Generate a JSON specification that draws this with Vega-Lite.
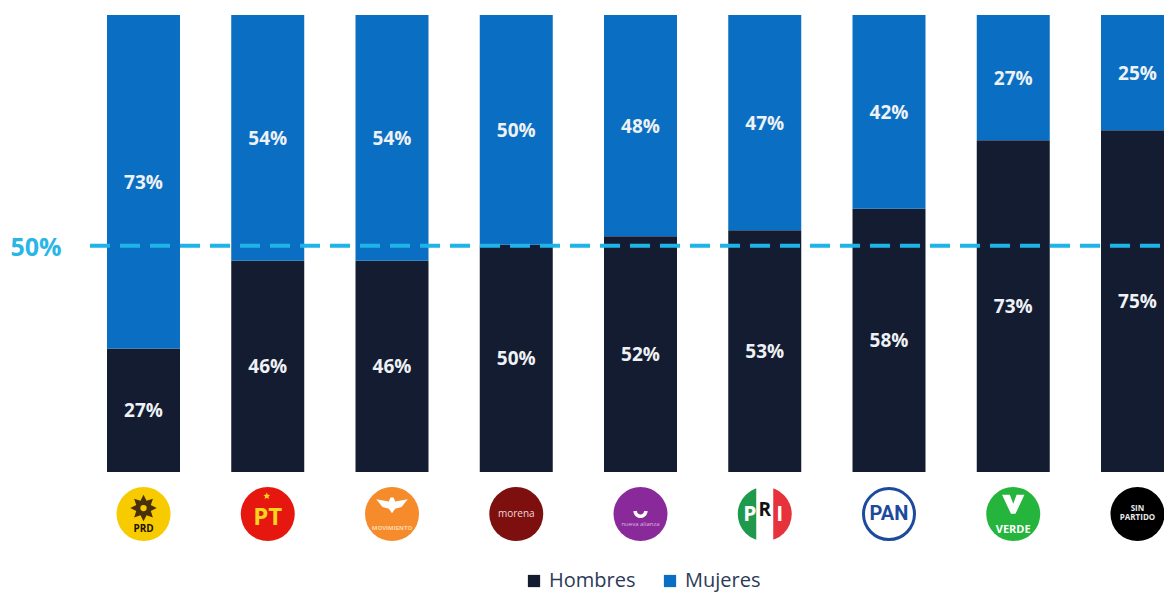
{"$schema":"https://vega.github.io/schema/vega-lite/v6.json","width":1164,"height":457,"padding":{"left":0,"top":15,"right":0,"bottom":120},"autosize":{"type":"none"},"background":"white","config":{"view":{"stroke":null},"font":"Open Sans"},
"datasets":{"votos":[
{"partido":"PRD","sexo":"Hombres","pct":0.27},{"partido":"PRD","sexo":"Mujeres","pct":0.73},
{"partido":"PT","sexo":"Hombres","pct":0.462},{"partido":"PT","sexo":"Mujeres","pct":0.538},
{"partido":"MC","sexo":"Hombres","pct":0.462},{"partido":"MC","sexo":"Mujeres","pct":0.538},
{"partido":"Morena","sexo":"Hombres","pct":0.497},{"partido":"Morena","sexo":"Mujeres","pct":0.503},
{"partido":"Nueva Alianza","sexo":"Hombres","pct":0.516},{"partido":"Nueva Alianza","sexo":"Mujeres","pct":0.484},
{"partido":"PRI","sexo":"Hombres","pct":0.529},{"partido":"PRI","sexo":"Mujeres","pct":0.471},
{"partido":"PAN","sexo":"Hombres","pct":0.576},{"partido":"PAN","sexo":"Mujeres","pct":0.424},
{"partido":"Verde","sexo":"Hombres","pct":0.726},{"partido":"Verde","sexo":"Mujeres","pct":0.274},
{"partido":"Sin partido","sexo":"Hombres","pct":0.748},{"partido":"Sin partido","sexo":"Mujeres","pct":0.252}],
"logos":[{"partido":"PRD"},{"partido":"PT"},{"partido":"MC"},{"partido":"Morena"},{"partido":"Nueva Alianza"},{"partido":"PRI"},{"partido":"PAN"},{"partido":"Verde"},{"partido":"Sin partido"}]},
"encoding":{"x":{"field":"partido","type":"nominal","axis":null,"scale":{"domain":["PRD","PT","MC","Morena","Nueva Alianza","PRI","PAN","Verde","Sin partido"],"range":[81.4,1199.6],"paddingInner":0.4125,"paddingOuter":0.206}}},
"layer":[
{"data":{"name":"votos"},"transform":[{"stack":"pct","groupby":["partido"],"sort":[{"field":"sexo","order":"ascending"}],"as":["y0","y1"]}],
"mark":{"type":"bar","clip":true},
"encoding":{"y":{"field":"y0","type":"quantitative","axis":null,"scale":{"domain":[0,1],"nice":false,"zero":false}},"y2":{"field":"y1"},
"color":{"field":"sexo","type":"nominal","scale":{"domain":["Hombres","Mujeres"],"range":["#131c30","#0a6fc2"]},
"legend":{"title":null,"orient":"none","legendX":524,"legendY":556,"direction":"horizontal","columns":2,"symbolType":"square","symbolSize":150,"symbolStrokeWidth":0,"symbolOpacity":1,"labelFontSize":20,"labelColor":"#2c3a58","columnPadding":24,"labelOffset":5,"padding":0}}}},
{"data":{"name":"votos"},"transform":[{"stack":"pct","groupby":["partido"],"sort":[{"field":"sexo","order":"ascending"}],"as":["y0","y1"]},{"fold":["y0","y1"],"as":["lim","borde"]}],
"mark":{"type":"text","color":"#eef1f5","fontWeight":"bold","fontSize":19,"baseline":"middle","dy":1,"font":"Open Sans"},
"encoding":{"y":{"aggregate":"mean","field":"borde","type":"quantitative"},"detail":{"field":"sexo"},"text":{"aggregate":"max","field":"pct","type":"quantitative","format":".0%"}}},
{"data":{"values":[{"desde":90,"hasta":1164,"nivel":0.495}]},"mark":{"type":"rule","color":"#1fb4e8","strokeWidth":4,"strokeDash":[20,10]},
"encoding":{"x":{"field":"desde","type":"quantitative","axis":null,"scale":{"domain":[0,1164],"range":[0,1164],"nice":false,"zero":true}},"x2":{"field":"hasta"},"y":{"field":"nivel","type":"quantitative"}}},
{"data":{"values":[{"nivel":0.495,"rotulo":"50%","lugar":36}]},"mark":{"type":"text","color":"#29b6e6","fontWeight":"bold","fontSize":25,"baseline":"middle","align":"center","dy":2,"font":"Open Sans"},
"encoding":{"x":{"field":"lugar","type":"quantitative","axis":null,"scale":{"domain":[0,1164],"range":[0,1164],"nice":false,"zero":true}},"y":{"field":"nivel","type":"quantitative"},"text":{"field":"rotulo"}}},
{"data":{"name":"logos"},"mark":{"type":"point","filled":true,"opacity":1,"size":2916,"shape":"circle"},
"encoding":{"y":{"datum":-0.092,"type":"quantitative"},"fill":{"field":"partido","type":"nominal","legend":null,"scale":{"domain":["PRD","PT","MC","Morena","Nueva Alianza","PRI","PAN","Verde","Sin partido"],"range":["#f7cb00","#e5170f","#f58b2a","#7d0f0f","#8a2a9a","#ffffff","#ffffff","#25b43c","#000000"]}}}},
{"data":{"values":[{"partido":"PRI","a":3.1416,"b":6.2832}]},"mark":{"type":"arc","radius":27,"color":"#1f9a4c","opacity":1},
"encoding":{"y":{"datum":-0.092,"type":"quantitative"},"theta":{"field":"a","type":"quantitative","scale":null},"theta2":{"field":"b"}}},
{"data":{"values":[{"partido":"PRI","a":0,"b":3.1416}]},"mark":{"type":"arc","radius":27,"color":"#e6323a","opacity":1},
"encoding":{"y":{"datum":-0.092,"type":"quantitative"},"theta":{"field":"a","type":"quantitative","scale":null},"theta2":{"field":"b"}}},
{"data":{"values":[{"partido":"PRI"}]},"mark":{"type":"tick","orient":"vertical","color":"#ffffff","opacity":1,"size":58,"thickness":17},"encoding":{"y":{"datum":-0.092,"type":"quantitative"}}},
{"data":{"values":[{"partido":"PAN"}]},"mark":{"type":"point","filled":false,"size":2600,"shape":"circle","color":"#1d4a9c","strokeWidth":3,"opacity":1},"encoding":{"y":{"datum":-0.092,"type":"quantitative"}}},
{"data":{"values":[{"partido":"PAN","t":"PAN"}]},"mark":{"type":"text","color":"#1d4a9c","fontWeight":"bold","fontSize":20,"baseline":"middle","font":"Roboto"},"encoding":{"y":{"datum":-0.092,"type":"quantitative"},"text":{"field":"t"}}},
{"data":{"values":[{"partido":"PT","t":"PT"}]},"mark":{"type":"text","color":"#f7d51d","fontWeight":"bold","fontSize":24,"baseline":"middle","dy":4},"encoding":{"y":{"datum":-0.092,"type":"quantitative"},"text":{"field":"t"}}},
{"data":{"values":[{"partido":"PT"}]},"mark":{"type":"point","filled":true,"opacity":1,"color":"#f7d51d","size":50,"yOffset":-18,"xOffset":-1,"shape":"M0 -1L0.29 -0.4L0.95 -0.31L0.47 0.15L0.59 0.81L0 0.5L-0.59 0.81L-0.47 0.15L-0.95 -0.31L-0.29 -0.4Z"},"encoding":{"y":{"datum":-0.092,"type":"quantitative"}}},
{"data":{"values":[{"partido":"PRD","t":"PRD"}]},"mark":{"type":"text","color":"#1a1200","fontWeight":"bold","fontSize":10,"baseline":"middle","dy":15},"encoding":{"y":{"datum":-0.092,"type":"quantitative"},"text":{"field":"t"}}},
{"data":{"values":[{"partido":"PRD"}]},"mark":{"type":"point","filled":true,"opacity":1,"color":"#4a3008","size":700,"yOffset":-6,"shape":"M1 0L0.55 0.23L0.71 0.71L0.23 0.55L0 1L-0.23 0.55L-0.71 0.71L-0.55 0.23L-1 0L-0.55 -0.23L-0.71 -0.71L-0.23 -0.55L0 -1L0.23 -0.55L0.71 -0.71L0.55 -0.23Z"},"encoding":{"y":{"datum":-0.092,"type":"quantitative"}}},
{"data":{"values":[{"partido":"PRD"}]},"mark":{"type":"point","filled":true,"opacity":1,"color":"#f7cb00","size":40,"yOffset":-6,"shape":"circle"},"encoding":{"y":{"datum":-0.092,"type":"quantitative"}}},
{"data":{"values":[{"partido":"MC"}]},"mark":{"type":"point","filled":true,"opacity":1,"color":"#ffffff","size":1000,"shape":"M-1 -0.5L-0.2 -0.35L-0.1 -0.6L0.1 -0.6L0.2 -0.35L1 -0.5L0.6 0L0.2 0.1L0 0.4L-0.2 0.1L-0.6 0Z","yOffset":-7},"encoding":{"y":{"datum":-0.092,"type":"quantitative"}}},
{"data":{"values":[{"partido":"MC","t":"MOVIMIENTO"}]},"mark":{"type":"text","color":"#ffd9b0","fontSize":6,"fontWeight":"bold","baseline":"middle","dy":14},"encoding":{"y":{"datum":-0.092,"type":"quantitative"},"text":{"field":"t"}}},
{"data":{"values":[{"partido":"Morena","t":"morena"}]},"mark":{"type":"text","color":"#f0d8d8","fontSize":10,"baseline":"middle"},"encoding":{"y":{"datum":-0.092,"type":"quantitative"},"text":{"field":"t"}}},
{"data":{"values":[{"partido":"Nueva Alianza"}]},"mark":{"type":"point","filled":true,"opacity":1,"color":"#ffffff","size":200,"shape":"M-1 0A1 1 0 0 0 1 0L0.5 0A0.5 0.5 0 0 1 -0.5 0Z","yOffset":-3},"encoding":{"y":{"datum":-0.092,"type":"quantitative"}}},
{"data":{"values":[{"partido":"Nueva Alianza","t":"nueva alianza"}]},"mark":{"type":"text","color":"#d8b8e0","fontSize":6,"baseline":"middle","dy":10},"encoding":{"y":{"datum":-0.092,"type":"quantitative"},"text":{"field":"t"}}},
{"data":{"values":[{"partido":"PRI","t":"P"}]},"mark":{"type":"text","color":"#ffffff","fontWeight":"bold","fontSize":21,"baseline":"middle","dx":-15,"dy":1},"encoding":{"y":{"datum":-0.092,"type":"quantitative"},"text":{"field":"t"}}},
{"data":{"values":[{"partido":"PRI","t":"R"}]},"mark":{"type":"text","color":"#111111","fontWeight":"bold","fontSize":19,"baseline":"middle","dy":-4},"encoding":{"y":{"datum":-0.092,"type":"quantitative"},"text":{"field":"t"}}},
{"data":{"values":[{"partido":"PRI","t":"I"}]},"mark":{"type":"text","color":"#ffffff","fontWeight":"bold","fontSize":21,"baseline":"middle","dx":15,"dy":1},"encoding":{"y":{"datum":-0.092,"type":"quantitative"},"text":{"field":"t"}}},
{"data":{"values":[{"partido":"Verde"}]},"mark":{"type":"point","filled":true,"opacity":1,"color":"#ffffff","size":500,"shape":"M-1 -1L-0.3 -1L0 -0.2L0.3 -1L1 -1L0.2 0.7L-0.2 0.7Z","yOffset":-8},"encoding":{"y":{"datum":-0.092,"type":"quantitative"}}},
{"data":{"values":[{"partido":"Verde","t":"VERDE"}]},"mark":{"type":"text","color":"#ffffff","fontWeight":"bold","fontSize":11,"baseline":"middle","dy":16},"encoding":{"y":{"datum":-0.092,"type":"quantitative"},"text":{"field":"t"}}},
{"data":{"values":[{"partido":"Sin partido","t":"SIN"}]},"mark":{"type":"text","color":"#e8e8e8","fontWeight":"bold","fontSize":8,"baseline":"middle","dy":-5},"encoding":{"y":{"datum":-0.092,"type":"quantitative"},"text":{"field":"t"}}},
{"data":{"values":[{"partido":"Sin partido","t":"PARTIDO"}]},"mark":{"type":"text","color":"#e8e8e8","fontWeight":"bold","fontSize":8,"baseline":"middle","dy":4},"encoding":{"y":{"datum":-0.092,"type":"quantitative"},"text":{"field":"t"}}}
],
"resolve":{"scale":{"x":"independent"}}}
